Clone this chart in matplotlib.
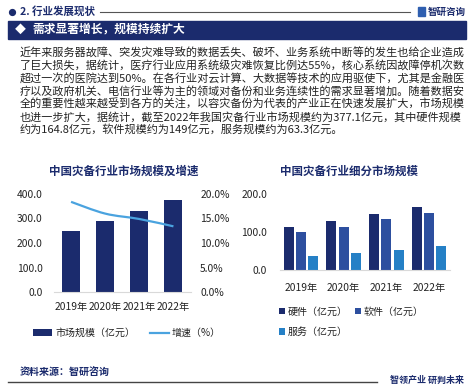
import matplotlib
matplotlib.use('Agg')
import matplotlib.pyplot as plt
from matplotlib.patches import Rectangle, PathPatch
from matplotlib.lines import Line2D
from matplotlib.path import Path
import numpy as np

plt.rcParams['font.family'] = ['Noto Sans CJK SC', 'DejaVu Sans']

W, H = 474, 390
NAVY = '#1b2b6d'
LINE_BLUE = '#4aa3df'
SW_BLUE = '#2d4f9f'
SVC_BLUE = '#2580c6'
TEXT = '#222222'

# ---------------- data ----------------
years = ['2019年', '2020年', '2021年', '2022年']
market_size = [249.0, 288.0, 332.0, 377.1]
growth = [18.4, 16.0, 14.9, 13.4]
hardware = [112.0, 128.0, 147.0, 164.8]
software = [99.0, 114.0, 133.0, 149.0]
service = [38.0, 45.0, 53.0, 63.3]
left_yticks = [0, 100, 200, 300, 400]
pct_ticks = [0, 5, 10, 15, 20]
right_yticks = [0, 100, 200]

header = '2. 行业发展现状'
banner = '需求显著增长，规模持续扩大'
paragraph = [
    '近年来服务器故障、突发灾难导致的数据丢失、破坏、业务系统中断等的发生也给企业造成',
    '了巨大损失，据统计，医疗行业应用系统级灾难恢复比例达55%，核心系统因故障停机次数',
    '超过一次的医院达到50%。在各行业对云计算、大数据等技术的应用驱使下，尤其是金融医',
    '疗以及政府机关、电信行业等为主的领域对备份和业务连续性的需求显著增加。随着数据安',
    '全的重要性越来越受到各方的关注，以容灾备份为代表的产业正在快速发展扩大，市场规模',
    '也进一步扩大，据统计，截至2022年我国灾备行业市场规模约为377.1亿元，其中硬件规模',
    '约为164.8亿元，软件规模约为149亿元，服务规模约为63.3亿元。',
]
title_left = '中国灾备行业市场规模及增速'
title_right = '中国灾备行业细分市场规模'
legend_left = ['市场规模（亿元）', '增速（%）']
legend_right = ['硬件（亿元）', '软件（亿元）', '服务（亿元）']
source = '资料来源：智研咨询'
slogan = '智领产业 研判未来'
brand = '智研咨询'

fig = plt.figure(figsize=(W / 100, H / 100), dpi=100)
fig.patch.set_facecolor('white')


def P(x, y):
    return (x / W, 1 - y / H)


def R(x0, y0, x1, y1):
    return [x0 / W, 1 - y1 / H, (x1 - x0) / W, (y1 - y0) / H]


def pt(px):
    return px * 0.72


# ---------------- header ----------------
fig.add_artist(Line2D([12 / W], [1 - 11.5 / H], marker='o', markersize=4.2,
                      color=NAVY, transform=fig.transFigure))
fig.text(*P(20, 11.5), header, fontsize=pt(10.5), fontweight='bold',
         color=NAVY, va='center', ha='left')
fig.add_artist(Line2D([100 / W, 410 / W], [1 - 12 / H, 1 - 12 / H],
                      color='#555555', lw=0.8, transform=fig.transFigure))
fig.add_artist(Rectangle(P(418, 16), 7 / W, 9 / H, transform=fig.transFigure,
                         color='#2f5fb0'))
fig.text(*P(428, 11.5), brand, fontsize=pt(9.5), fontweight='bold',
         color=NAVY, va='center', ha='left')

# banner
fig.add_artist(Rectangle(P(8, 38.5), 458 / W, 18 / H, transform=fig.transFigure,
                         color=NAVY))
fig.text(*P(15, 29.5), '◆', fontsize=pt(11), color='white', va='center', ha='left')
fig.text(*P(32, 29.5), banner, fontsize=pt(11.8), fontweight='bold',
         color='white', va='center', ha='left')

# paragraph
for i, line in enumerate(paragraph):
    fig.text(*P(20, 53.5 + i * 12.7), line, fontsize=pt(11.1), color=TEXT,
             va='center', ha='left')

# ---------------- left chart ----------------
fig.text(*P(123.5, 171), title_left, fontsize=pt(11.5), color=NAVY,
         fontweight='bold', va='center', ha='center')

ax1 = fig.add_axes(R(54, 194, 190.5, 292))
x = np.arange(len(years))
bars = ax1.bar(x, market_size, width=0.53, color=NAVY, zorder=2)
ax1.set_xlim(-0.5, 3.5)
ax1.set_ylim(0, 400)
ax1.set_yticks(left_yticks)
ax1.set_yticklabels([f'{v:.1f}' for v in left_yticks])
ax1.set_xticks(x)
ax1.set_xticklabels(years)
ax1.tick_params(axis='y', length=0, pad=8, labelsize=pt(10.2), labelcolor=TEXT)
ax1.tick_params(axis='x', length=0, pad=7, labelsize=pt(10.2), labelcolor=TEXT)
for s in ['top', 'right', 'left']:
    ax1.spines[s].set_visible(False)
ax1.spines['bottom'].set_color('#d9d9d9')
ax1.patch.set_alpha(0)

ax2 = ax1.twinx()
ax2.set_ylim(0, 20)
ax2.set_yticks(pct_ticks)
ax2.set_yticklabels([f'{v:.1f}%' for v in pct_ticks])
ax2.tick_params(axis='y', length=0, pad=7, labelsize=pt(10.2), labelcolor=TEXT)
for s in ['top', 'right', 'left', 'bottom']:
    ax2.spines[s].set_visible(False)

# smooth line through the growth points (Catmull-Rom -> cubic Bezier)
pts = np.column_stack([x, growth]).astype(float)
verts = [tuple(pts[0])]
codes = [Path.MOVETO]
n = len(pts)
for i in range(n - 1):
    p0 = pts[i - 1] if i > 0 else pts[i]
    p1 = pts[i]
    p2 = pts[i + 1]
    p3 = pts[i + 2] if i + 2 < n else pts[i + 1]
    c1 = p1 + (p2 - p0) / 6.0
    c2 = p2 - (p3 - p1) / 6.0
    verts += [tuple(c1), tuple(c2), tuple(p2)]
    codes += [Path.CURVE4] * 3
ax2.add_patch(PathPatch(Path(verts, codes), facecolor='none',
                        edgecolor=LINE_BLUE, lw=1.6, zorder=3))
line_handle = Line2D([], [], color=LINE_BLUE, lw=1.6)

fig.legend([bars, line_handle], legend_left, loc='center left',
           bbox_to_anchor=P(33, 333), ncol=2, frameon=False, borderpad=0,
           borderaxespad=0, fontsize=pt(10), handlelength=1.9,
           handleheight=0.7, handletextpad=0.3, columnspacing=1.5,
           labelcolor=TEXT)

# ---------------- right chart ----------------
fig.text(*P(349, 171), title_right, fontsize=pt(11.5), color=NAVY,
         fontweight='bold', va='center', ha='center')

ax3 = fig.add_axes(R(279.7, 194, 450.3, 270))
bw = 0.234
off = 0.29
b_hw = ax3.bar(x - off, hardware, width=bw, color=NAVY, zorder=2)
b_sw = ax3.bar(x, software, width=bw, color=SW_BLUE, zorder=2)
b_svc = ax3.bar(x + off, service, width=bw, color=SVC_BLUE, zorder=2)
ax3.set_xlim(-0.5, 3.5)
ax3.set_ylim(0, 200)
ax3.set_yticks(right_yticks)
ax3.set_yticklabels([f'{v:.1f}' for v in right_yticks])
ax3.set_xticks(x)
ax3.set_xticklabels(years)
ax3.tick_params(axis='y', length=0, pad=9, labelsize=pt(10.2), labelcolor=TEXT)
ax3.tick_params(axis='x', length=0, pad=9, labelsize=pt(10.2), labelcolor=TEXT)
for s in ['top', 'right', 'left']:
    ax3.spines[s].set_visible(False)
ax3.spines['bottom'].set_color('#d9d9d9')
ax3.patch.set_alpha(0)

fig.legend([b_hw, b_svc, b_sw], [legend_right[0], legend_right[2], legend_right[1]],
           loc='upper left', bbox_to_anchor=P(279, 306.5), ncol=2, frameon=False,
           borderpad=0, borderaxespad=0, fontsize=pt(10), handlelength=0.6,
           handleheight=0.6, handletextpad=0.3, columnspacing=0.65,
           labelspacing=1.05, labelcolor=TEXT)

# ---------------- footer ----------------
fig.text(*P(20, 373), source, fontsize=pt(10), fontweight='bold', color=NAVY,
         va='center', ha='left')
fig.add_artist(Line2D([8 / W, 377 / W], [1 - 381.5 / H, 1 - 381.5 / H],
                      color='#444444', lw=1.0, transform=fig.transFigure))
fig.text(*P(390, 380.5), slogan, fontsize=pt(9), fontweight='bold', color=NAVY,
         va='center', ha='left')

fig.savefig('out.png', dpi=100, facecolor='white')
